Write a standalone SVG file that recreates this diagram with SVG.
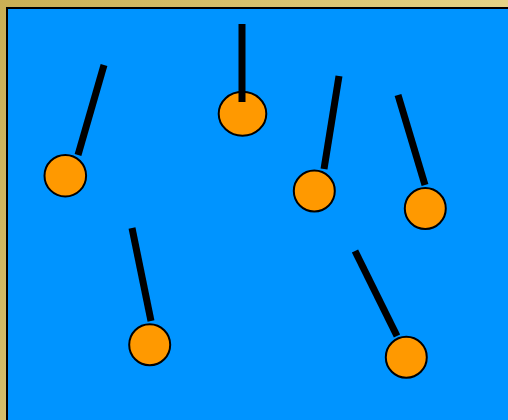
<svg xmlns="http://www.w3.org/2000/svg" width="508" height="420" viewBox="0 0 508 420">
  <defs>
    <linearGradient id="frame" x1="0" y1="0" x2="1" y2="0.4">
      <stop offset="0" stop-color="#C9AF55"/>
      <stop offset="1" stop-color="#E8D88E"/>
    </linearGradient>
  </defs>
  <style>
    .rod { stroke: #000; stroke-width: 7; stroke-linecap: butt; fill: none; }
    .bob { fill: #FF9900; stroke: #000; stroke-width: 2; }
  </style>
  <rect x="0" y="0" width="508" height="420" fill="url(#frame)"/>
  <rect x="7" y="8" width="503" height="415" fill="#0094FF" stroke="#000" stroke-width="2"/>
  <g id="connectors">
    <line class="rod" x1="104" y1="65" x2="78" y2="155"/>
    <line class="rod" x1="339" y1="76" x2="324" y2="169"/>
    <line class="rod" x1="398" y1="95" x2="425" y2="185"/>
    <line class="rod" x1="132" y1="228" x2="151" y2="321"/>
    <line class="rod" x1="355" y1="251" x2="397" y2="336"/>
  </g>
  <g id="bob1"><circle class="bob" cx="65.3" cy="175.7" r="20.8"/></g>
  <g id="bob2"><ellipse class="bob" cx="242.5" cy="113.8" rx="23.8" ry="22"/></g>
  <g id="bob3"><circle class="bob" cx="314.3" cy="191" r="20.5"/></g>
  <g id="bob4"><circle class="bob" cx="425.3" cy="208.5" r="20.5"/></g>
  <g id="bob5"><circle class="bob" cx="149.7" cy="344.7" r="20.5"/></g>
  <g id="bob6"><circle class="bob" cx="406.3" cy="357.2" r="20.5"/></g>
  <g id="rod2"><line class="rod" x1="242" y1="24" x2="242" y2="102"/></g>
</svg>
